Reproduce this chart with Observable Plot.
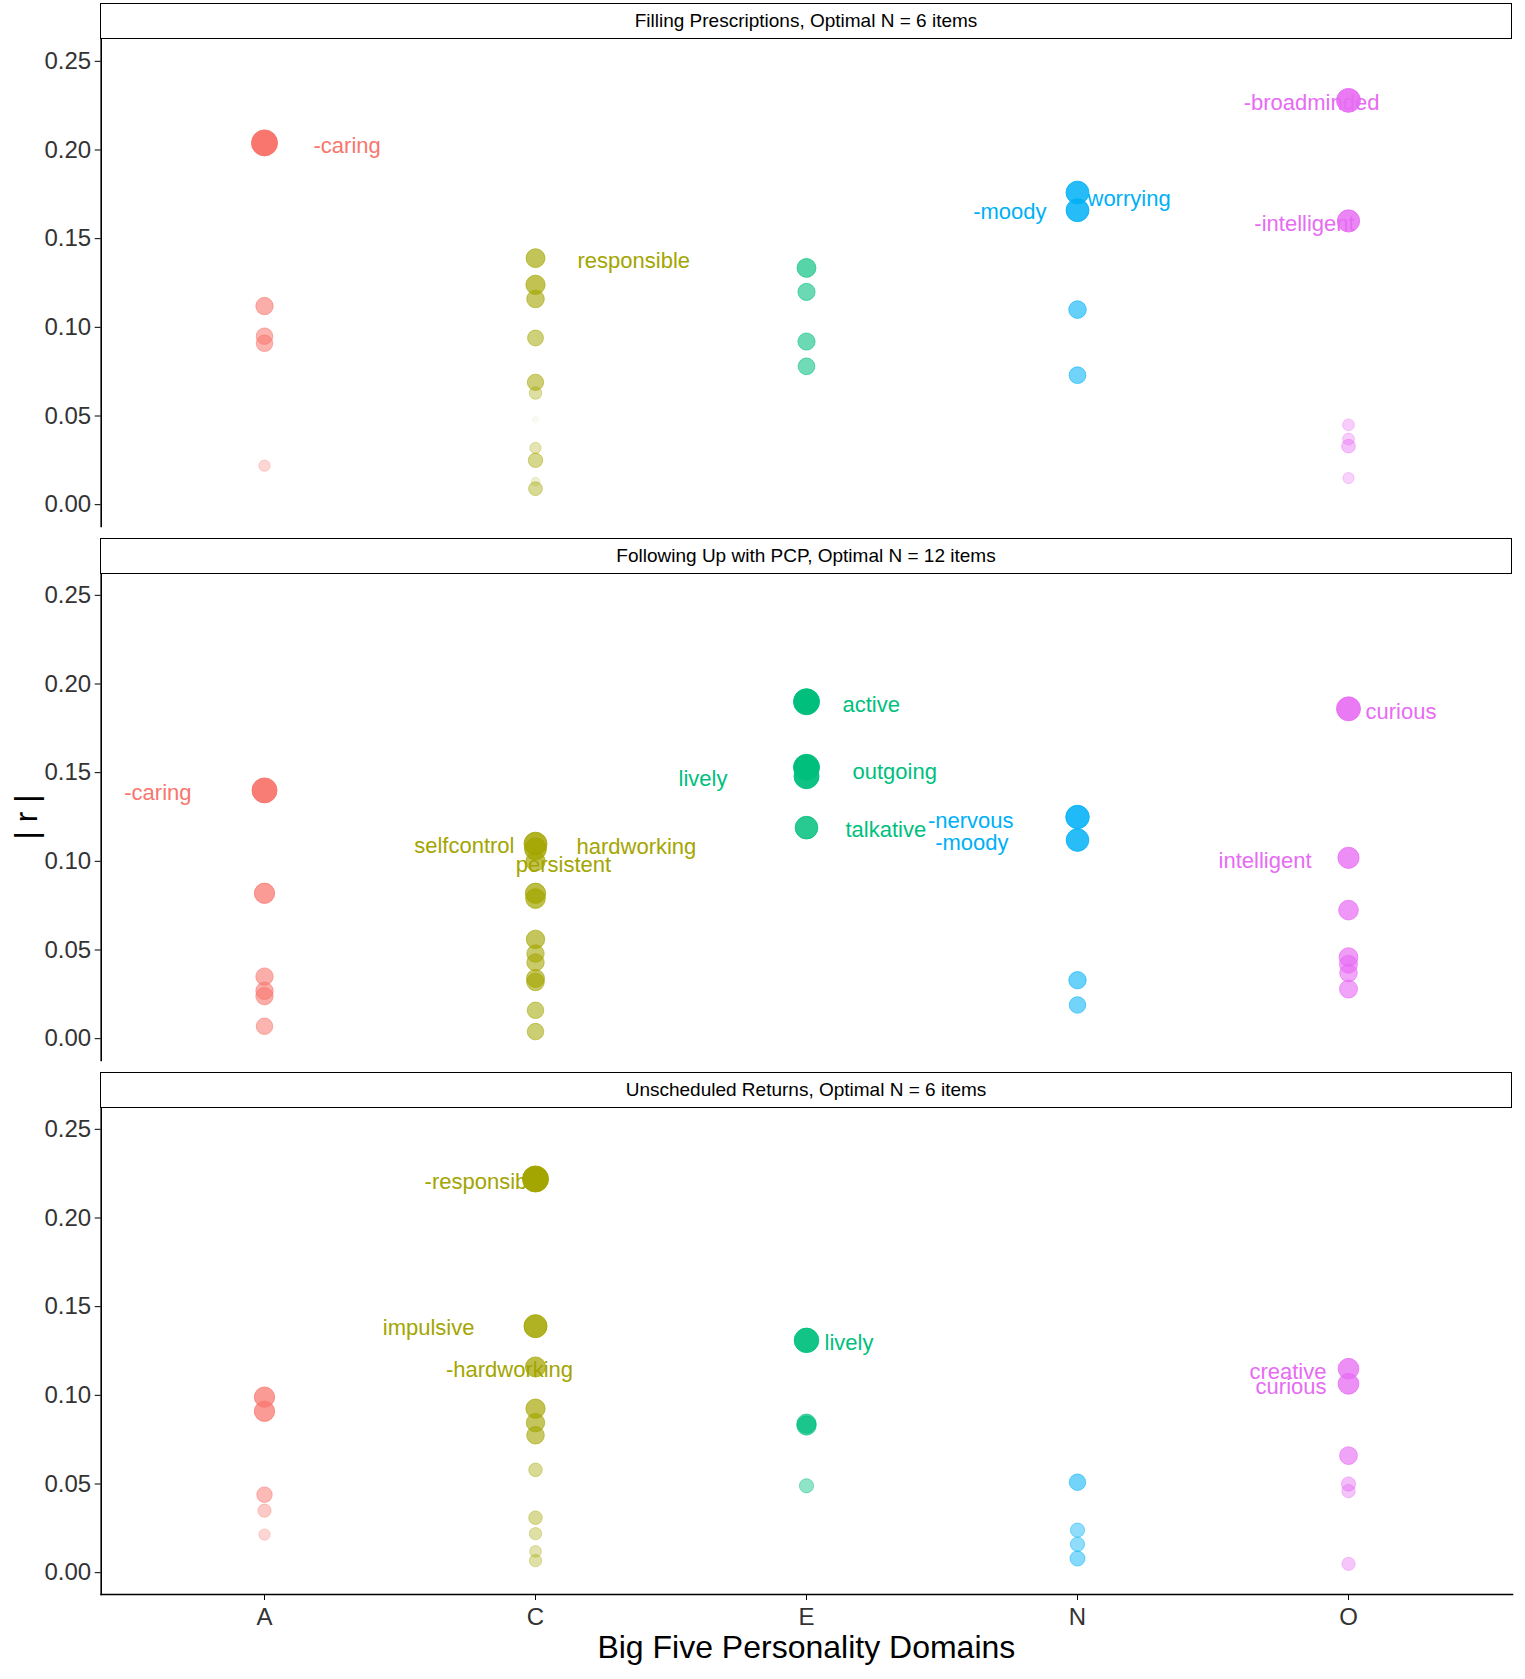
<!DOCTYPE html>
<html>
<head>
<meta charset="utf-8">
<script src="https://cdn.jsdelivr.net/npm/d3@7"></script>
<script src="https://cdn.jsdelivr.net/npm/@observablehq/plot@0.6"></script>
<style>
  html, body { margin: 0; padding: 0; background: #fff; }
  #chart { position: relative; width: 1525px; height: 1679px; background: #fff; font-family: "Liberation Sans", Arial, sans-serif; }
  .strip { position: absolute; box-sizing: border-box; border: 1.5px solid #000; background: #fff;
           display: flex; align-items: center; justify-content: center; font-size: 19px; color: #000; }
  .title { position: absolute; color: #000; white-space: pre; line-height: 1; }
</style>
</head>
<body>
<div id="chart"></div>
<script>
// ---------- data ----------
const domains = ["A", "C", "E", "N", "O"];
const domainColors = ["#F8766D", "#A3A500", "#00BF7D", "#00B0F6", "#E76BF3"];
const panelTitles = [
  "Filling Prescriptions, Optimal N = 6 items",
  "Following Up with PCP, Optimal N = 12 items",
  "Unscheduled Returns, Optimal N = 6 items"
];
const yTicks = [0, 0.05, 0.10, 0.15, 0.20, 0.25];
const xTitle = "Big Five Personality Domains";
const yTitle = "| r |";

// Panel 1: Filling Prescriptions
const p1Domain = ["A","A","A","A","A", "C","C","C","C","C","C","C","C","C","C","C", "E","E","E","E", "N","N","N","N", "O","O","O","O","O","O"];
const p1Value  = [0.204,0.112,0.095,0.091,0.022, 0.139,0.124,0.116,0.094,0.069,0.063,0.048,0.032,0.025,0.013,0.009, 0.1335,0.120,0.092,0.078, 0.176,0.166,0.110,0.073, 0.228,0.160,0.045,0.037,0.033,0.015];
const p1Weight = [1.0,0.59,0.55,0.55,0.30, 0.66,0.68,0.60,0.52,0.54,0.36,0.05,0.30,0.45,0.18,0.42, 0.66,0.58,0.58,0.56, 0.85,0.85,0.60,0.56, 0.90,0.82,0.33,0.33,0.42,0.30];
const p1Label  = ["-caring","","","","", "responsible","","","","","","","","","","", "","","","", "worrying","-moody","","", "-broadminded","-intelligent","","","",""];

// Panel 2: Following Up with PCP
const p2Domain = ["A","A","A","A","A","A", "C","C","C","C","C","C","C","C","C","C","C","C", "E","E","E","E", "N","N","N","N", "O","O","O","O","O","O","O"];
const p2Value  = [0.140,0.082,0.035,0.027,0.024,0.007, 0.110,0.107,0.100,0.082,0.079,0.056,0.048,0.043,0.034,0.032,0.016,0.004, 0.190,0.153,0.148,0.119, 0.125,0.112,0.033,0.019, 0.186,0.102,0.0725,0.046,0.042,0.037,0.028];
const p2Weight = [0.95,0.73,0.59,0.59,0.59,0.55, 0.85,0.80,0.68,0.73,0.70,0.64,0.59,0.59,0.62,0.60,0.55,0.55, 1.0,1.0,0.95,0.84, 0.88,0.84,0.59,0.55, 0.90,0.77,0.70,0.66,0.62,0.60,0.62];
const p2Label  = ["-caring","","","","","", "selfcontrol","hardworking","persistent","","","","","","","","","", "active","outgoing","lively","talkative", "-nervous","-moody","","", "curious","intelligent","","","","",""];

// Panel 3: Unscheduled Returns
const p3Domain = ["A","A","A","A","A", "C","C","C","C","C","C","C","C","C","C","C", "E","E","E","E", "N","N","N","N", "O","O","O","O","O","O"];
const p3Value  = [0.099,0.091,0.044,0.035,0.0215, 0.222,0.139,0.116,0.0925,0.0846,0.0775,0.058,0.031,0.022,0.012,0.0068, 0.131,0.084,0.083,0.049, 0.051,0.024,0.016,0.008, 0.115,0.1065,0.066,0.050,0.046,0.005];
const p3Weight = [0.73,0.73,0.50,0.39,0.30, 1.0,0.86,0.72,0.68,0.64,0.60,0.41,0.41,0.35,0.32,0.35, 0.93,0.68,0.68,0.44, 0.55,0.44,0.44,0.48, 0.75,0.75,0.61,0.44,0.40,0.39];
const p3Label  = ["","","","","", "-responsible","impulsive","-hardworking","","","","","","","","", "lively","","","", "","","","", "creative","curious","","","",""];

// ---------- layout (styles, not data) ----------
// label placement relative to its point: [textAnchor, dx, dy]
const labelLayout = [
  { "-caring": ["start", 49, 3.4], "responsible": ["start", 42, 3], "-moody": ["end", -31, 2],
    "worrying": ["start", 10, 6], "-broadminded": ["middle", -37, 3], "-intelligent": ["middle", -44, 3] },
  { "-caring": ["end", -73, 3], "selfcontrol": ["end", -21, 2.5], "hardworking": ["start", 41, -1.5],
    "persistent": ["middle", 28, 4], "lively": ["end", -79, 3], "active": ["start", 36, 3],
    "outgoing": ["start", 46, 5], "talkative": ["start", 39, 2], "-nervous": ["end", -64, 4],
    "-moody": ["end", -69, 3], "curious": ["start", 17, 3.4], "intelligent": ["end", -37, 3] },
  { "-responsible": ["middle", -51, 3], "impulsive": ["end", -61, 2], "-hardworking": ["middle", -26, 3],
    "lively": ["start", 18, 3], "creative": ["end", -22, 3.5], "curious": ["end", -22, 2.7] }
];

const panels = [
  {domain: p1Domain, value: p1Value, weight: p1Weight, label: p1Label},
  {domain: p2Domain, value: p2Value, weight: p2Weight, label: p2Label},
  {domain: p3Domain, value: p3Value, weight: p3Weight, label: p3Label}
];
const panelTops = [38.6, 573.4, 1107];
const panelH = 487;
const stripH = 36;
const mL = 100.7, mR = 13;
const FONT = "'Liberation Sans', Arial, sans-serif";

const chart = document.getElementById("chart");

panels.forEach((p, i) => {
  const rows = p.domain.map((d, j) => ({domain: d, value: p.value[j], weight: p.weight[j], label: p.label[j]}));
  const labeled = rows.filter(d => d.label !== "");
  const last = i === panels.length - 1;
  const mB = last ? 50 : 0;

  const labelMarks = labeled.map(d => {
    const [anchor, dx, dy] = labelLayout[i][d.label];
    return Plot.text([d], {x: "domain", y: "value", text: "label", fill: "domain",
      textAnchor: anchor, dx, dy, fontSize: 22});
  });

  const marks = [
    Plot.frame({anchor: "left", stroke: "#000", strokeWidth: 1.6}),
    Plot.axisY({ticks: yTicks, tickFormat: d3.format(".2f"), tickSize: 6, tickPadding: 4,
      fontSize: 24, fill: "#333", stroke: "#000", label: null}),
    ...labelMarks,
    Plot.dot(rows, {x: "domain", y: "value", r: "weight", fill: "domain", stroke: "domain",
      fillOpacity: "weight", strokeOpacity: "weight", strokeWidth: 1})
  ];
  if (last) {
    marks.push(Plot.frame({anchor: "bottom", stroke: "#000", strokeWidth: 1.6}));
    marks.push(Plot.axisX({tickSize: 6, tickPadding: 7, fontSize: 24, fill: "#333", stroke: "#000", label: null}));
  }

  const svg = Plot.plot({
    width: 1525,
    height: panelH + mB,
    marginLeft: mL, marginRight: mR, marginTop: 0, marginBottom: mB,
    style: `background: transparent; overflow: visible; font-family: ${FONT};`,
    x: {type: "point", domain: domains, padding: 0.6, axis: null},
    y: {domain: [-0.0123, 0.2623], axis: null},
    r: {type: "linear", domain: [0, 1], range: [2.5, 13]},
    opacity: {type: "pow", exponent: 1.5, domain: [0, 1], range: [0, 0.95]},
    color: {domain: domains, range: domainColors},
    marks
  });
  svg.style.position = "absolute";
  svg.style.left = "0px";
  svg.style.top = panelTops[i] + "px";
  chart.appendChild(svg);

  const strip = document.createElement("div");
  strip.className = "strip";
  strip.style.left = "100px";
  strip.style.width = (1525 - mR - 100) + "px";
  strip.style.top = (panelTops[i] - stripH + 0.5) + "px";
  strip.style.height = stripH + "px";
  strip.textContent = panelTitles[i];
  chart.appendChild(strip);
});

// axis titles
const xt = document.createElement("div");
xt.className = "title";
xt.style.fontSize = "32px";
xt.style.left = ((mL + 1525 - mR) / 2) + "px";
xt.style.top = "1647px";
xt.style.transform = "translate(-50%, -50%)";
xt.textContent = xTitle;
chart.appendChild(xt);

const yt = document.createElement("div");
yt.className = "title";
yt.style.fontSize = "32px";
yt.style.left = "26px";
yt.style.top = "817px";
yt.style.transform = "translate(-50%, -50%) rotate(-90deg)";
yt.textContent = yTitle;
chart.appendChild(yt);
</script>
</body>
</html>
